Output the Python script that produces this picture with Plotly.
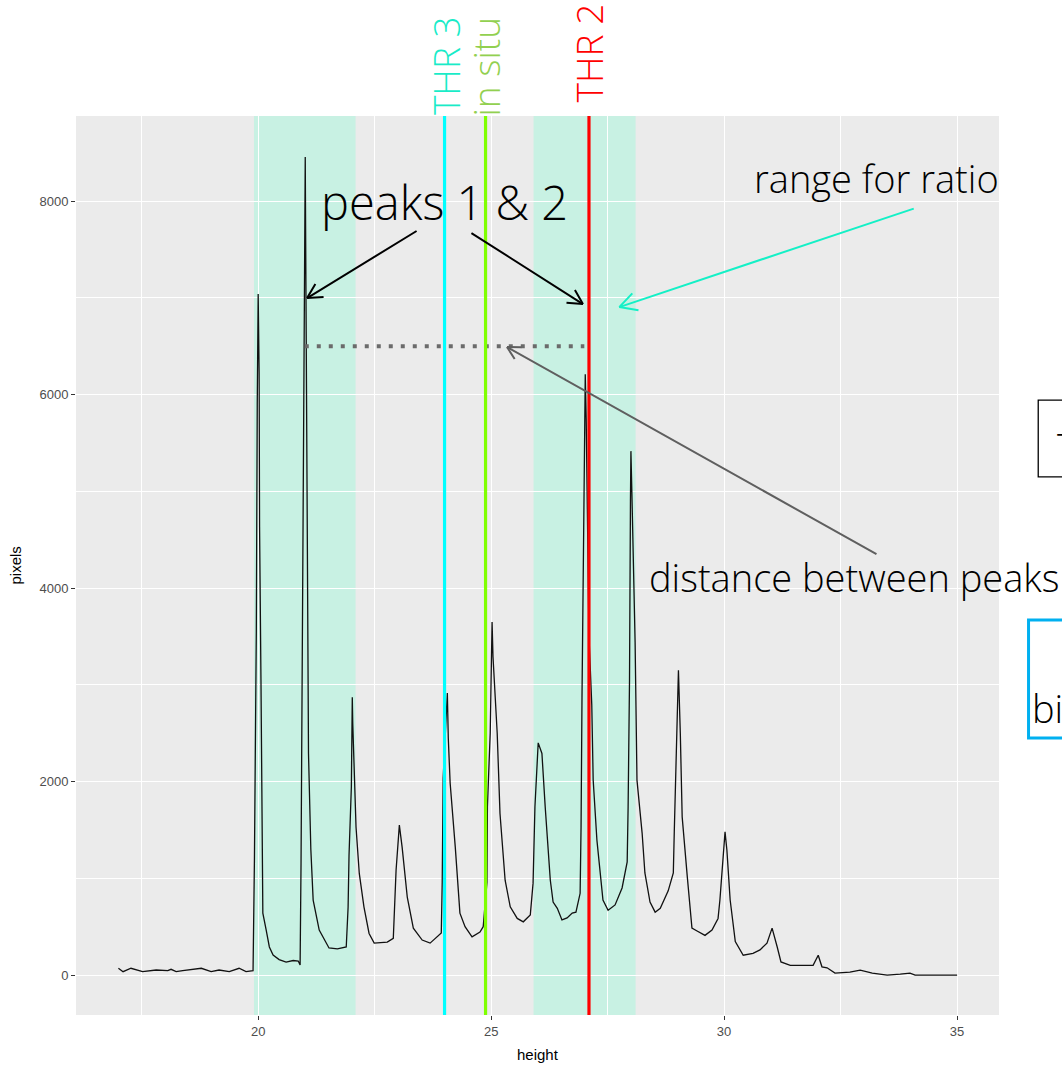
import math
import plotly.graph_objects as go

# ---- data ----
height = [17.00, 17.10, 17.27, 17.42, 17.52, 17.81, 18.06, 18.13, 18.24, 18.38, 18.78, 18.99,
          19.16, 19.38, 19.59, 19.74, 19.89, 19.92, 19.96, 19.98, 20.00, 20.02, 20.03, 20.06,
          20.08, 20.10, 20.17, 20.24, 20.32, 20.45, 20.60, 20.75, 20.86, 20.90, 20.92, 20.95,
          20.98, 21.00, 21.01, 21.02, 21.05, 21.08, 21.13, 21.18, 21.31, 21.52, 21.70, 21.89,
          21.93, 21.95, 22.00, 22.02, 22.03, 22.10, 22.17, 22.27, 22.38, 22.49, 22.77, 22.90,
          22.96, 23.03, 23.09, 23.20, 23.33, 23.52, 23.69, 23.93, 23.95, 23.97, 24.06, 24.08,
          24.12, 24.23, 24.33, 24.44, 24.59, 24.76, 24.83, 24.91, 24.92, 24.98, 25.02, 25.04,
          25.13, 25.19, 25.30, 25.41, 25.56, 25.69, 25.84, 25.90, 25.94, 26.01, 26.09, 26.16,
          26.27, 26.33, 26.42, 26.52, 26.63, 26.74, 26.82, 26.91, 26.93, 26.95, 27.00, 27.02,
          27.04, 27.06, 27.10, 27.16, 27.19, 27.27, 27.34, 27.40, 27.51, 27.66, 27.81, 27.92,
          27.94, 27.97, 27.99, 28.00, 28.02, 28.09, 28.13, 28.24, 28.30, 28.41, 28.52, 28.63,
          28.80, 28.91, 28.93, 28.97, 29.02, 29.06, 29.10, 29.21, 29.31, 29.42, 29.59, 29.74,
          29.87, 29.91, 30.02, 30.06, 30.13, 30.24, 30.41, 30.62, 30.77, 30.92, 31.03, 31.14,
          31.22, 31.42, 31.91, 32.02, 32.10, 32.21, 32.38, 32.70, 32.92, 33.18, 33.50, 33.78,
          33.99, 34.10, 35.00]
pixels = [70, 35, 70, 45, 35, 52, 45, 59, 35, 45, 70, 35,
          52, 35, 70, 35, 45, 1210, 3550, 5900, 7040, 6230, 4630, 3050,
          1450, 640, 470, 290, 207, 160, 134, 150, 145, 103, 1155, 3235,
          5320, 7410, 8455, 7560, 4050, 2290, 1300, 775, 465, 280, 270, 290,
          700, 1240, 1945, 2870, 2600, 1530, 1050, 705, 430, 330, 340, 380,
          1085, 1550, 1320, 806, 485, 362, 330, 434, 960, 2035, 2915, 2450,
          1985, 1325, 640, 500, 395, 445, 500, 960, 1740, 2500, 3650, 3290,
          2500, 1670, 980, 705, 585, 550, 620, 950, 1740, 2400, 2290, 1740,
          980, 755, 690, 570, 590, 640, 650, 845, 1530, 2875, 5540, 6210,
          5750, 4830, 3500, 2790, 2015, 1395, 1050, 775, 670, 725, 900, 1170,
          1740, 3050, 4900, 5415, 5000, 3440, 2015, 1470, 1055, 755, 650, 690,
          870, 1055, 1470, 2150, 3150, 2500, 1635, 1015, 485, 455, 410, 465,
          585, 775, 1480, 1290, 775, 345, 205, 225, 260, 330, 485, 290,
          135, 100, 100, 205, 85, 75, 20, 30, 50, 20, 0, 10,
          20, 0, 0]

band_start = [19.91, 25.91]
band_end = [22.09, 28.10]

thr3_height = 24.0
insitu_height = 24.88
thr2_height = 27.1

dist_height = [21.0, 27.0]
dist_pixels = [6500, 6500]

x_range = [16.09, 35.9]
y_range = [-413, 8879]
x_ticks = [20, 25, 30, 35]
x_minor = [17.5, 22.5, 27.5, 32.5]
y_ticks = [0, 2000, 4000, 6000, 8000]
y_minor = [1000, 3000, 5000, 7000]

TXT = "Open Sans"
TICKF = "Liberation Sans"
W = 300

fig = go.Figure()

fig.add_trace(go.Scatter(x=height, y=pixels, mode="lines",
                         line=dict(color="#111111", width=1.3), showlegend=False,
                         hoverinfo="skip"))
fig.add_trace(go.Scatter(x=dist_height, y=dist_pixels, mode="lines",
                         line=dict(color="#6b6b6b", width=4, dash="4px,8px"),
                         showlegend=False, hoverinfo="skip"))

shapes = []
for s, e in zip(band_start, band_end):
    shapes.append(dict(type="rect", xref="x", yref="paper", x0=s, x1=e, y0=0, y1=1,
                       fillcolor="rgba(127,255,212,0.32)", line=dict(width=0), layer="between"))
for xv, col in [(thr3_height, "#00FFFF"), (insitu_height, "#7FFF00"), (thr2_height, "#FF0000")]:
    shapes.append(dict(type="line", xref="x", yref="paper", x0=xv, x1=xv, y0=0, y1=1,
                       line=dict(color=col, width=3.2), layer="above"))

# slide boxes at right edge (paper coords)
shapes.append(dict(type="rect", xref="paper", yref="paper", x0=1.0425, x1=1.12, y0=0.5985, y1=0.684,
                   line=dict(color="#000000", width=1.3), fillcolor="rgba(0,0,0,0)"))
shapes.append(dict(type="rect", xref="paper", yref="paper", x0=1.032, x1=1.12, y0=0.308, y1=0.4394,
                   line=dict(color="#00B0F0", width=3), fillcolor="rgba(0,0,0,0)"))

annotations = []
# rotated line labels
for xv, txt, col, xs, ys in [(thr3_height, "THR 3", "#19EBC8", 1, -1),
                             (insitu_height, "in situ", "#92D050", -1, -3),
                             (thr2_height, "THR 2", "#FF0000", 0, 12)]:
    annotations.append(dict(x=xv, y=1, xref="x", yref="paper", text=txt, showarrow=False,
                            textangle=-90, xanchor="center", yanchor="bottom", xshift=xs, yshift=ys,
                            font=dict(family=TXT, size=37, color=col, weight=W)))

annotations.append(dict(x=24.0, y=7990, xref="x", yref="y", text="peaks 1 & 2", showarrow=False,
                        font=dict(family=TXT, size=47, color="#000000", weight=W)))
annotations.append(dict(x=33.28, y=8238, xref="x", yref="y", text="range for ratio", showarrow=False,
                        font=dict(family=TXT, size=38, color="#000000", weight=W)))
annotations.append(dict(x=32.78, y=4114, xref="x", yref="y", text="distance between peaks",
                        showarrow=False, font=dict(family=TXT, size=38, color="#000000", weight=W)))
annotations.append(dict(x=1.0335, y=0.3415, xref="paper", yref="paper", text="bi", showarrow=False,
                        xanchor="left", font=dict(family=TXT, size=38, color="#000000", weight=W)))
annotations.append(dict(x=1.061, y=0.632, xref="paper", yref="paper", text="T", showarrow=False,
                        xanchor="left", font=dict(family=TXT, size=38, color="#000000", weight=W)))

# axis titles
annotations.append(dict(x=0.5, y=0, xref="paper", yref="paper", text="height", showarrow=False,
                        yanchor="top", yshift=-29, font=dict(family=TICKF, size=15, color="#000000")))
annotations.append(dict(x=0, y=0.5, xref="paper", yref="paper", text="pixels", showarrow=False,
                        textangle=-90, xanchor="center", xshift=-61,
                        font=dict(family=TICKF, size=15, color="#000000")))

# arrows: head in data coords, tail offset in screen px
arrows = [
    dict(hx=21.05, hy=6997, dx=111, dy=-68, color="#000000", w=2.0, L=18),
    dict(hx=26.97, hy=6935, dx=-113, dy=-72, color="#000000", w=2.0, L=18),
    dict(hx=27.75, hy=6904, dx=296, dy=-99, color="#14F0C6", w=2.0, L=21),
    dict(hx=25.34, hy=6491, dx=371, dy=208, color="#5f5f5f", w=2.0, L=16),
]
for a in arrows:
    annotations.append(dict(x=a["hx"], y=a["hy"], xref="x", yref="y", text="", showarrow=True,
                            ax=a["dx"], ay=a["dy"], arrowhead=0, arrowwidth=a["w"],
                            arrowcolor=a["color"], standoff=0, startstandoff=0))
    n = math.hypot(a["dx"], a["dy"])
    ux, uy = a["dx"] / n, a["dy"] / n
    for ang in (math.radians(28), math.radians(-28)):
        wx = ux * math.cos(ang) - uy * math.sin(ang)
        wy = ux * math.sin(ang) + uy * math.cos(ang)
        annotations.append(dict(x=a["hx"], y=a["hy"], xref="x", yref="y", text="", showarrow=True,
                                ax=wx * a["L"], ay=wy * a["L"], arrowhead=0, arrowwidth=a["w"],
                                arrowcolor=a["color"], standoff=0, startstandoff=0))

fig.update_layout(
    width=1062, height=1066,
    margin=dict(l=76, r=63, t=116, b=51),
    paper_bgcolor="#FFFFFF", plot_bgcolor="#EBEBEB",
    shapes=shapes, annotations=annotations, showlegend=False,
    xaxis=dict(range=x_range, tickvals=x_ticks, ticks="outside", ticklen=4, tickcolor="#333333",
               tickwidth=1, showgrid=True, gridcolor="#FFFFFF", gridwidth=1.2, zeroline=False,
               showline=False, tickfont=dict(family=TICKF, size=13, color="#4D4D4D"),
               minor=dict(tickvals=x_minor, showgrid=True, gridcolor="#FFFFFF", gridwidth=0.6, ticks="")),
    yaxis=dict(range=y_range, tickvals=y_ticks, ticks="outside", ticklen=4, tickcolor="#333333",
               tickwidth=1, showgrid=True, gridcolor="#FFFFFF", gridwidth=1.2, zeroline=False,
               showline=False, tickfont=dict(family=TICKF, size=13, color="#4D4D4D"),
               minor=dict(tickvals=y_minor, showgrid=True, gridcolor="#FFFFFF", gridwidth=0.6, ticks="")),
)

fig.write_html("out.html")
